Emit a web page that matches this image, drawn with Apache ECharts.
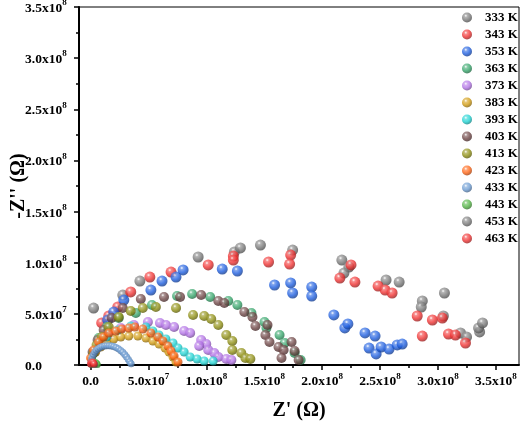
<!DOCTYPE html>
<html><head><meta charset="utf-8">
<script src="https://cdn.jsdelivr.net/npm/echarts@6/dist/echarts.min.js"></script>
<style>html,body{margin:0;padding:0;background:#fff}#c{width:524px;height:426px}</style>
</head><body><div id="c"></div>
<script>
// all values below are in units of 10^7 Ω
const UNIT = 1e7;
const temps = ['333 K','343 K','353 K','363 K','373 K','383 K','393 K','403 K','413 K','423 K','433 K','443 K','453 K','463 K'];
const xTickVals = [0,5,10,15,20,25,30,35];
const xMinorVals = [2.5,7.5,12.5,17.5,22.5,27.5,32.5];
const yTickVals = [0,5,10,15,20,25,30,35];

const s333 = [[0.26,5.57],[2.78,6.84],[4.26,8.21],[9.29,10.56],[12.42,11.05],[12.94,11.44],[14.67,11.73],[17.45,11.24],[21.70,10.26],[22.31,9.58],[21.88,8.99],[25.52,8.31],[26.65,8.11],[28.65,6.26],[28.56,5.67],[30.56,7.04],[30.47,4.79],[31.95,3.13],[32.47,2.74],[33.60,3.23],[33.51,3.62],[33.85,4.11]];
const s343 = [[0.96,4.11],[1.57,4.79],[2.35,5.67],[3.47,7.14],[5.12,8.60],[6.95,9.09],[10.16,9.78],[12.33,10.65],[12.33,10.26],[15.37,10.07],[17.28,10.75],[17.19,9.87],[21.53,8.50],[22.49,9.78],[22.83,8.11],[24.83,7.72],[25.44,7.33],[26.04,7.04],[28.21,4.79],[28.65,2.83],[29.52,4.40],[30.38,4.59],[30.91,3.03],[31.51,2.93],[32.38,2.15]];
const s353 = [[1.48,4.40],[2.00,5.18],[2.87,6.35],[5.21,7.33],[6.17,8.21],[7.38,8.60],[7.99,9.29],[11.37,9.38],[12.68,9.19],[15.89,7.82],[17.28,8.02],[17.45,7.04],[19.10,7.62],[19.10,6.74],[21.01,4.89],[21.96,3.62],[22.22,4.01],[23.70,3.13],[24.57,2.83],[24.05,1.66],[24.66,1.08],[25.09,1.76],[25.78,1.56],[26.48,1.96],[26.91,2.05]];
const s363 = [[0.26,1.27],[0.70,2.64],[1.39,3.71],[2.43,4.59],[3.91,5.08],[5.30,5.87],[7.47,6.74],[8.77,6.94],[10.33,6.65],[11.89,6.26],[12.68,5.87],[13.89,5.08],[15.02,4.20],[15.19,3.62],[16.32,2.93],[16.76,2.15],[17.62,1.17],[18.14,0.49]];
const s373 = [[0.35,1.27],[0.87,2.15],[1.57,2.93],[2.61,3.62],[3.74,3.91],[4.95,4.20],[5.99,4.11],[6.51,3.91],[7.21,3.71],[8.08,3.32],[8.60,3.13],[9.55,2.44],[9.99,2.05],[9.38,1.86],[10.16,1.47],[10.68,1.17],[11.03,0.78],[11.72,0.59],[12.16,0.49]];
const s383 = [[0.09,0.68],[0.44,1.27],[0.87,1.76],[1.39,2.25],[2.00,2.54],[2.61,2.74],[3.30,2.83],[4.08,2.83],[4.78,2.64],[5.38,2.35],[5.91,2.05],[6.43,1.66],[6.77,1.27],[7.12,0.78],[7.38,0.29]];
const s393 = [[0.17,0.98],[0.70,1.96],[1.39,2.74],[2.35,3.42],[3.47,3.81],[4.78,3.71],[5.38,3.32],[5.91,2.93],[6.51,2.54],[7.12,2.15],[7.55,1.66],[8.08,1.27],[8.60,0.78],[9.20,0.59],[9.81,0.39],[10.59,0.39]];
const s403 = [[0.17,1.27],[0.61,2.44],[1.13,3.42],[1.82,4.59],[2.78,5.57],[4.34,6.45],[6.34,6.65],[7.73,6.65],[9.55,6.84],[11.03,6.26],[11.55,6.06],[13.28,5.18],[13.98,4.69],[14.24,3.81],[15.28,3.91],[15.10,2.93],[15.45,2.25],[16.23,1.76],[16.67,1.47],[17.36,2.25],[17.62,1.37],[16.49,0.68],[17.97,0.49]];
const s413 = [[0.26,1.17],[0.52,1.96],[0.96,2.74],[1.57,3.71],[2.43,4.69],[3.47,5.28],[4.51,5.57],[5.64,5.67],[7.38,5.57],[8.85,4.89],[9.81,4.79],[10.42,4.50],[11.03,3.91],[11.72,2.93],[12.24,2.35],[12.24,1.47],[13.02,1.17],[13.37,0.68],[13.80,0.59]];
const s423 = [[0.00,0.68],[0.26,1.47],[0.70,2.25],[1.13,2.74],[1.57,3.13],[2.17,3.32],[2.69,3.52],[3.30,3.62],[3.82,3.71],[4.51,3.52],[5.21,3.13],[5.82,2.74],[6.25,2.35],[6.68,1.86],[6.95,1.37],[7.21,0.88],[7.55,0.29]];
const s433 = [[0.03,0.25],[0.08,0.55],[0.15,0.8],[0.25,1.05],[0.37,1.28],[0.5,1.45],[0.65,1.6],[0.82,1.72],[1.0,1.8],[1.2,1.86],[1.4,1.88],[1.6,1.88],[1.8,1.85],[2.0,1.8],[2.2,1.7],[2.4,1.58],[2.6,1.42],[2.78,1.24],[2.95,1.02],[3.1,0.8],[3.25,0.55],[3.38,0.32],[3.5,0.12]];
const s443 = [[0.1,0.08],[0.18,0.2],[0.3,0.27],[0.42,0.25],[0.52,0.15],[0.58,0.05]];
const s453 = [[0.04,0.08],[0.12,0.18],[0.22,0.2],[0.3,0.12],[0.35,0.04]];
const s463 = [[0.0,0.1],[0.05,0.25],[0.14,0.3],[0.24,0.25],[0.3,0.1]];

const seriesData = [s333,s343,s353,s363,s373,s383,s393,s403,s413,s423,s433,s443,s453,s463];
const palette = ['#7a7a7a','#f03232','#1f5fe0','#35a56a','#b373e6','#d29c12','#1fd3d3','#6e4545','#8f8f12','#ff6414','#6b9bd2','#52b443','#7a7a7a','#f03232'];
const sizes = [11,11,11,10,10,9,9,10,10,9,7,7,7,7];

const FONT = '"Liberation Serif","Times New Roman",serif';
function shade(hex, f){
  const n = parseInt(hex.slice(1),16); const r=n>>16, g=(n>>8)&255, b=n&255;
  const m = c => f>=0 ? Math.round(c+(255-c)*f) : Math.round(c*(1+f));
  return 'rgb('+m(r)+','+m(g)+','+m(b)+')';
}
function ball(hex){
  return {type:'radial', x:0.38, y:0.32, r:0.75, colorStops:[
    {offset:0,color:'#ffffff'},{offset:0.2,color:shade(hex,0.3)},{offset:0.55,color:hex},{offset:1,color:shade(hex,-0.45)}]};
}
function sci(v){
  if (Math.abs(v) < 1) return '{m|0.0}';
  const e = Math.floor(Math.log10(v) + 1e-9);
  const m = (v/Math.pow(10,e)).toFixed(1);
  return '{m|'+m+'x10}{e|'+e+'}';
}
const rich = {
  m:{fontFamily:FONT, fontWeight:'bold', fontSize:13.5, color:'#000', verticalAlign:'bottom', lineHeight:17},
  e:{fontFamily:FONT, fontWeight:'bold', fontSize:9, color:'#000', verticalAlign:'top', lineHeight:17}
};

const chart = echarts.init(document.getElementById('c'), null, {renderer:'canvas'});
chart.setOption({
  animation:false,
  backgroundColor:'#fff',
  grid:{left:79, top:7, right:5, bottom:61, show:true, borderColor:'#000', borderWidth:1, backgroundColor:'transparent', containLabel:false, outerBoundsMode:'none'},
  legend:{orient:'vertical', left:457, top:6, itemWidth:20, itemHeight:10, itemGap:4, icon:'circle',
    data: temps,
    textStyle:{fontFamily:FONT, fontWeight:'bold', fontSize:13, color:'#000', padding:[0,0,0,3]}},
  xAxis:[{
    type:'value', min:-1*UNIT, max:37*UNIT, position:'bottom',
    axisLine:{onZero:false, lineStyle:{color:'#000', width:2}},
    axisTick:{show:true, customValues:xTickVals.map(v=>v*UNIT), length:5, lineStyle:{color:'#000', width:1.5}},
    axisLabel:{customValues:xTickVals.map(v=>v*UNIT), formatter:sci, rich:rich, margin:7},
    splitLine:{show:false},
    name:"Z' (Ω)", nameLocation:'middle', nameGap:36, nameMoveOverlap:false,
    nameTextStyle:{fontFamily:FONT, fontWeight:'bold', fontSize:20, color:'#000'}
  },{
    type:'value', min:-1*UNIT, max:37*UNIT, position:'bottom',
    axisLine:{show:false, onZero:false},
    axisTick:{show:true, customValues:xMinorVals.map(v=>v*UNIT), length:3, lineStyle:{color:'#000', width:1.5}},
    axisLabel:{show:false}, splitLine:{show:false}
  }],
  yAxis:{
    type:'value', min:0, max:35*UNIT, interval:5*UNIT,
    axisLine:{show:true, onZero:false, lineStyle:{color:'#000', width:2}},
    axisTick:{show:true, length:5, lineStyle:{color:'#000', width:1.5}},
    minorTick:{show:true, splitNumber:2, length:3, lineStyle:{color:'#000', width:1.5}},
    axisLabel:{formatter:sci, rich:rich, margin:54, align:'left'},
    splitLine:{show:false},
    name:"-Z'' (Ω)", nameLocation:'middle', nameGap:50, nameRotate:90, nameMoveOverlap:false,
    nameTextStyle:{fontFamily:FONT, fontWeight:'bold', fontSize:20, color:'#000'}
  },
  series: temps.map((t,i)=>({
    name:t, type:'scatter', xAxisIndex:0, yAxisIndex:0,
    data: seriesData[i].map(p=>[p[0]*UNIT, p[1]*UNIT]),
    symbol:'circle', symbolSize:sizes[i],
    itemStyle:{color:ball(palette[i])},
    emphasis:{disabled:true}
  }))
});
</script></body></html>
